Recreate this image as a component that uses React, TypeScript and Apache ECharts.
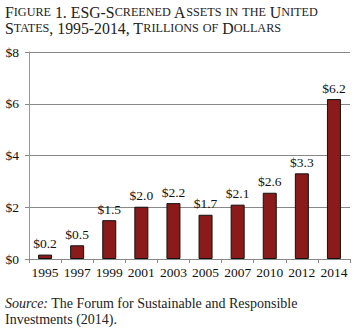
import React, { useEffect, useRef } from "react";
import * as echarts from "echarts";

const categories = ["1995", "1997", "1999", "2001", "2003", "2005", "2007", "2010", "2012", "2014"];
const values = [0.17, 0.53, 1.5, 2.02, 2.16, 1.71, 2.1, 2.56, 3.31, 6.18];
const titleLines = [
  "Figure 1. ESG-Screened Assets in the United",
  "States, 1995-2014, Trillions of Dollars",
];
const sourceLabel = "Source:";
const sourceLines = [
  " The Forum for Sustainable and Responsible",
  "Investments (2014).",
];

const SERIF = "Liberation Serif";

function smallCaps(s: string): string {
  let out = "";
  let i = 0;
  while (i < s.length) {
    const isLower = /[a-z]/.test(s[i]);
    let j = i;
    while (j < s.length && /[a-z]/.test(s[j]) === isLower) j++;
    const chunk = s.slice(i, j);
    out += isLower ? `{s|${chunk.toUpperCase()}}` : `{b|${chunk}}`;
    i = j;
  }
  return out;
}

export default function App() {
  const ref = useRef<HTMLDivElement>(null);
  useEffect(() => {
    if (!ref.current) return;
    const chart = echarts.init(ref.current, null, { renderer: "svg" });
    const richTitle = {
      b: { fontFamily: SERIF, fontSize: 15.8, lineHeight: 16, fill: "#222", color: "#222" },
      s: { fontFamily: SERIF, fontSize: 12.2, lineHeight: 16, fill: "#222", color: "#222" },
    };
    chart.setOption({
      animation: false,
      textStyle: { fontFamily: SERIF },
      grid: { left: 29, right: 4, top: 52, bottom: 71, containLabel: false },
      xAxis: {
        type: "category",
        data: categories,
        boundaryGap: true,
        axisLine: { lineStyle: { color: "#888", width: 1 } },
        axisTick: { show: true, length: 4, lineStyle: { color: "#888" } },
        axisLabel: { fontFamily: SERIF, fontSize: 13.5, color: "#111", margin: 6, interval: 0 },
      },
      yAxis: {
        type: "value",
        min: 0,
        max: 8,
        interval: 2,
        axisLine: { show: true, lineStyle: { color: "#8a9aa8", width: 1 } },
        axisTick: { show: true, length: 4, lineStyle: { color: "#888" } },
        axisLabel: {
          fontFamily: SERIF,
          fontSize: 13.5,
          color: "#111",
          margin: 10,
          formatter: (v: number) => "$" + v,
        },
        splitLine: { lineStyle: { color: "#888", width: 1 } },
      },
      series: [
        {
          type: "bar",
          data: values,
          barWidth: 14,
          itemStyle: { color: "#8b1a1a", borderColor: "#111", borderWidth: 1 },
          label: {
            show: true,
            position: "top",
            distance: 4,
            fontFamily: SERIF,
            fontSize: 13.5,
            color: "#111",
            formatter: (p: any) => "$" + Number(p.value).toFixed(1),
          },
        },
      ],
      graphic: [
        {
          type: "text",
          x: 5,
          y: 4,
          style: {
            text: smallCaps(titleLines[0]) + "\n" + smallCaps(titleLines[1]),
            rich: richTitle,
            fill: "#222",
          },
        },
        {
          type: "text",
          x: 5,
          y: 295,
          style: {
            text: `{i|${sourceLabel}}{n|${sourceLines[0]}}\n{n|${sourceLines[1]}}`,
            rich: {
              i: { fontFamily: SERIF, fontSize: 14, lineHeight: 16, fontStyle: "italic", fill: "#222", color: "#222" },
              n: { fontFamily: SERIF, fontSize: 14, lineHeight: 16, fill: "#222", color: "#222" },
            },
            fill: "#222",
          },
        },
      ],
    });
    return () => chart.dispose();
  }, []);
  return (
    <div
      ref={ref}
      style={{ position: "fixed", left: 0, top: 0, width: 354, height: 330, background: "#fff" }}
    />
  );
}
